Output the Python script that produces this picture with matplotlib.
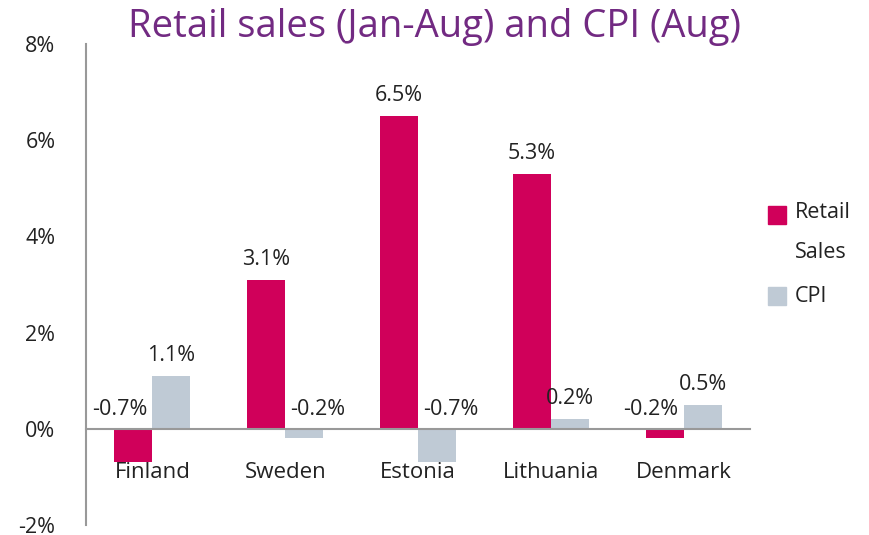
import numpy as np
import matplotlib
matplotlib.use('Agg')
import matplotlib.pyplot as plt
from matplotlib.ticker import FuncFormatter
from matplotlib.patches import Rectangle

countries = ["Finland", "Sweden", "Estonia", "Lithuania", "Denmark"]
retail = [-0.7, 3.1, 6.5, 5.3, -0.2]
cpi = [1.1, -0.2, -0.7, 0.2, 0.5]

RED = '#D0005A'
GREY = '#BFCAD5'
PURPLE = '#722A82'

plt.rcParams['font.family'] = ['Open Sans', 'DejaVu Sans']

fig = plt.figure(figsize=(8.69, 5.35), dpi=100)
ax = fig.add_axes([86/869, 1 - 525/535, 664/869, (525 - 44)/535])

x = np.arange(len(countries))
w = 0.286
ax.bar(x - w/2, retail, w, color=RED)
ax.bar(x + w/2, cpi, w, color=GREY)

# value labels: positive above the bar, negative just above the zero line
def label(xs, vals, shift):
    for xi, v in zip(xs, vals):
        if v >= 0:
            ax.annotate(f"{v:.1f}%", (xi, v), xytext=(0, 7), textcoords='offset points',
                        ha='center', va='bottom', fontsize=15.5, color='#222222')
        else:
            ax.annotate(f"{v:.1f}%", (xi, 0), xytext=(shift, 6), textcoords='offset points',
                        ha='center', va='bottom', fontsize=15.5, color='#222222')

label(x - w/2, retail, -10)
label(x + w/2, cpi, 10)

ax.set_xlim(-0.5, 4.5)
ax.set_ylim(-2, 8)
ax.set_yticks([-2, 0, 2, 4, 6, 8])
ax.yaxis.set_major_formatter(FuncFormatter(lambda v, p: f"{v:.0f}%"))
ax.set_xticks(x)
ax.set_xticklabels(countries)

for s in ['top', 'right']:
    ax.spines[s].set_visible(False)
ax.spines['bottom'].set_position(('data', 0))
ax.spines['bottom'].set_color('#999999')
ax.spines['left'].set_color('#999999')
ax.spines['bottom'].set_linewidth(1.5)
ax.spines['left'].set_linewidth(1.5)
ax.tick_params(axis='x', length=0, pad=24, labelsize=16, colors='#222222')
ax.tick_params(axis='y', length=0, pad=22, labelsize=15.5, colors='#222222')

fig.text(435/869, 1 - 27/535, "Retail sales (Jan-Aug) and CPI (Aug)", ha='center', va='center',
         fontsize=27.5, color=PURPLE)

# legend, drawn by hand so the swatch sits beside the first line of the label
def fx(px):
    return px / 869
def fy(py):
    return 1 - py / 535

fig.patches.append(Rectangle((fx(768), fy(224)), 18/869, 18/535, transform=fig.transFigure,
                             color=RED, figure=fig))
fig.patches.append(Rectangle((fx(768), fy(305)), 18/869, 18/535, transform=fig.transFigure,
                             color=GREY, figure=fig))
fig.text(fx(795), fy(213), "Retail", va='center', ha='left', fontsize=15.5, color='#222222')
fig.text(fx(795), fy(252), "Sales", va='center', ha='left', fontsize=15.5, color='#222222')
fig.text(fx(795), fy(296), "CPI", va='center', ha='left', fontsize=15.5, color='#222222')

fig.savefig("out.png", dpi=100)
